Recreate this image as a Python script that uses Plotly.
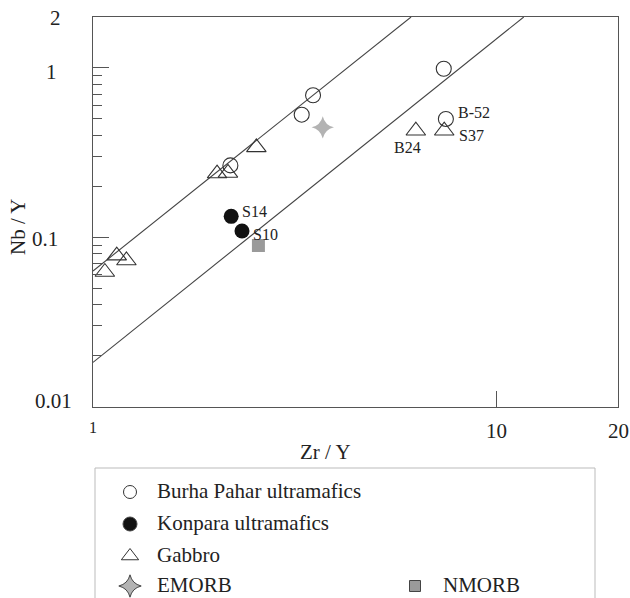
import numpy as np
import plotly.graph_objects as go

# Zr/Y vs Nb/Y data
burha_x = [3.51, 3.29, 2.19, 7.40, 7.49]
burha_y = [0.69, 0.53, 0.266, 0.99, 0.50]

konpara_x = [2.20, 2.34]
konpara_y = [0.133, 0.109]

gabbro_x = [2.54, 2.03, 2.16, 1.145, 1.21, 1.07, 6.31, 7.42]
gabbro_y = [0.34, 0.238, 0.240, 0.078, 0.073, 0.0624, 0.426, 0.426]

emorb_x = [3.71]
emorb_y = [0.446]
nmorb_x = [2.57]
nmorb_y = [0.0894]

# Boundary lines (end points in Zr/Y, Nb/Y)
upper_line_x = [1.0, 6.14]
upper_line_y = [0.0633, 2.0]
lower_line_x = [1.0, 11.68]
lower_line_y = [0.01826, 2.0]

# Sample labels: (text, x, y, xanchor, xshift, yshift)
sample_labels = [
    ("S14", 2.20, 0.133, "left", 9, 5),
    ("S10", 2.34, 0.109, "left", 9, -3),
    ("B-52", 7.49, 0.50, "left", 10, 6),
    ("S37", 7.42, 0.426, "left", 13, -5),
    ("B24", 6.31, 0.426, "center", -8, -17),
]

x_ticks = [1, 10, 20]
x_tick_text = ["1", "10", "20"]
y_ticks = [0.01, 0.1, 1, 2]
y_tick_text = ["0.01", "0.1", "1", "2"]
y_minor = [0.02, 0.03, 0.04, 0.05, 0.06, 0.07, 0.08, 0.09,
           0.2, 0.3, 0.4, 0.5, 0.6, 0.7, 0.8, 0.9]

W, H = 630, 598
FONT = "Liberation Serif"
INK = "#222222"
EDGE = "#333333"
GREY = "#9a9a9a"
STAR = "#b3b3b3"

fig = go.Figure()

# boundary lines
for lx, ly in ((upper_line_x, upper_line_y), (lower_line_x, lower_line_y)):
    fig.add_trace(go.Scatter(x=lx, y=ly, mode="lines",
                             line=dict(color="#444444", width=1.1),
                             showlegend=False, hoverinfo="skip"))

fig.add_trace(go.Scatter(x=nmorb_x, y=nmorb_y, mode="markers", name="NMORB",
                         marker=dict(symbol="square", size=13, color=GREY),
                         showlegend=False))
fig.add_trace(go.Scatter(x=emorb_x, y=emorb_y, mode="markers", name="EMORB",
                         marker=dict(symbol="star-diamond", size=16, color=STAR),
                         showlegend=False))
fig.add_trace(go.Scatter(x=gabbro_x, y=gabbro_y, mode="markers", name="Gabbro",
                         marker=dict(symbol="triangle-up-open", size=17,
                                     color=EDGE, line=dict(width=1.1)),
                         showlegend=False))
fig.add_trace(go.Scatter(x=burha_x, y=burha_y, mode="markers",
                         name="Burha Pahar ultramafics",
                         marker=dict(symbol="circle-open", size=15,
                                     color=EDGE, line=dict(width=1.1)),
                         showlegend=False))
fig.add_trace(go.Scatter(x=konpara_x, y=konpara_y, mode="markers",
                         name="Konpara ultramafics",
                         marker=dict(symbol="circle", size=15, color="#111111"),
                         showlegend=False))

# legend panel, laid out on a pixel-space overlay axis
legend_rows = [
    ("circle-open", 13, EDGE, 130, 492, "Burha Pahar ultramafics", 155),
    ("circle", 14, "#111111", 130, 524, "Konpara ultramafics", 155),
    ("triangle-up-open", 15, EDGE, 130, 556, "Gabbro", 155),
    ("star-diamond", 16, STAR, 130, 586, "EMORB", 155),
    ("square", 11, GREY, 415, 586, "NMORB", 441),
]
for sym, sz, col, mx, my, txt, tx in legend_rows:
    fig.add_trace(go.Scatter(x=[mx], y=[my], mode="markers", xaxis="x2", yaxis="y2",
                             marker=dict(symbol=sym, size=sz, color=col,
                                         line=dict(width=1)),
                             showlegend=False, hoverinfo="skip"))
    fig.add_annotation(x=tx, y=my - 1, xref="x2", yref="y2", text=txt,
                       showarrow=False, xanchor="left", yanchor="middle",
                       font=dict(family=FONT, size=21, color=INK))

fig.add_shape(type="rect", xref="x2", yref="y2", x0=95, x1=595, y0=468, y1=640,
              line=dict(color="#bbbbbb", width=1), layer="below")

for txt, px, py, anc, xs, ys in sample_labels:
    fig.add_annotation(x=np.log10(px), y=np.log10(py), xref="x", yref="y",
                       text=txt, showarrow=False, xanchor=anc, yanchor="middle",
                       xshift=xs, yshift=ys,
                       font=dict(family=FONT, size=16, color=INK))

# y tick labels: (right edge in px, vertical nudge)
y_label_place = [(74, 6), (60, -2), (59, -4), (63, -1)]
for val, txt, (rx, dy) in zip(y_ticks, y_tick_text, y_label_place):
    fig.add_annotation(x=rx / W, y=np.log10(val), xref="paper", yref="y",
                       text=txt, showarrow=False, xanchor="right",
                       yanchor="middle", yshift=dy,
                       font=dict(family=FONT, size=21, color=INK))

# x tick labels: (centre y in px, font size)
x_label_place = [(427, 16), (431, 21), (431, 21)]
for val, txt, (cy, fs) in zip(x_ticks, x_tick_text, x_label_place):
    fig.add_annotation(x=np.log10(val), y=1 - cy / H, xref="x", yref="paper",
                       text=txt, showarrow=False, xanchor="center",
                       yanchor="middle",
                       font=dict(family=FONT, size=fs, color=INK))

# axis titles
fig.add_annotation(x=18 / W, y=1 - 227 / H, xref="paper", yref="paper",
                   text="Nb / Y", textangle=-90, showarrow=False,
                   xanchor="center", yanchor="middle",
                   font=dict(family=FONT, size=21, color=INK))
fig.add_annotation(x=325 / W, y=1 - 452 / H, xref="paper", yref="paper",
                   text="Zr / Y", showarrow=False,
                   xanchor="center", yanchor="middle",
                   font=dict(family=FONT, size=21, color=INK))

axis_line = dict(showline=True, mirror=True, linecolor="#555555", linewidth=1.2,
                 showgrid=False, zeroline=False, showticklabels=False,
                 automargin=False)

fig.update_layout(
    width=W, height=H,
    margin=dict(l=0, r=0, t=0, b=0, pad=0),
    paper_bgcolor="white", plot_bgcolor="rgba(0,0,0,0)",
    font=dict(family=FONT, size=21, color=INK),
    showlegend=False,
    xaxis=dict(type="log", range=[0, np.log10(20)],
               domain=[93 / W, 618 / W], anchor="y",
               tickmode="array", tickvals=x_ticks,
               ticks="inside", ticklen=16, tickcolor="#555555",
               **axis_line),
    yaxis=dict(type="log", range=[-2, np.log10(2)],
               domain=[1 - 406.7 / H, 1 - 17 / H], anchor="x",
               tickmode="array", tickvals=y_ticks,
               ticks="inside", ticklen=16, tickcolor="#555555",
               minor=dict(tickmode="array", tickvals=y_minor, ticks="inside",
                          ticklen=9, tickcolor="#555555", showgrid=False),
               **axis_line),
    xaxis2=dict(domain=[0, 1], range=[0, W], anchor="y2", visible=False,
                fixedrange=True, automargin=False),
    yaxis2=dict(domain=[0, 1], range=[H, 0], anchor="x2", visible=False,
                fixedrange=True, automargin=False),
)

fig.write_html("out.html")
